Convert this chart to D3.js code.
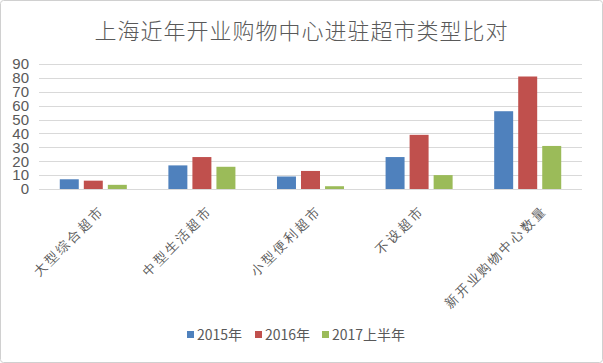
<!DOCTYPE html>
<html lang="zh">
<head>
<meta charset="UTF-8">
<title>上海近年开业购物中心进驻超市类型比对</title>
<script src="https://d3js.org/d3.v7.min.js"></script>
<style>
  body { margin: 0; background: #fff; }
  svg { display: block; font-family: "Noto Sans CJK SC", "Noto Sans", sans-serif; }
</style>
</head>
<body>
<div id="chart"></div>
<script>
// 数据
const categories = ["大型综合超市", "中型生活超市", "小型便利超市", "不设超市", "新开业购物中心数量"];
const seriesNames = ["2015年", "2016年", "2017上半年"];
const v2015 = [7, 17, 9, 23, 56];
const v2016 = [6, 23, 13, 39, 81];
const v2017h1 = [3, 16, 2, 10, 31];
const yTicks = [0, 10, 20, 30, 40, 50, 60, 70, 80, 90];
const colors = ["#4f81bd", "#c0504d", "#9bbb59"];

const width = 603, height = 363;
const margin = { top: 64, right: 21, bottom: 174, left: 39 };
const values = [v2015, v2016, v2017h1];

const svg = d3.select("#chart").append("svg")
  .attr("width", width)
  .attr("height", height);

// 外框
svg.append("rect")
  .attr("x", 0.5).attr("y", 0.5)
  .attr("width", width - 1).attr("height", height - 1)
  .attr("rx", 3)
  .attr("fill", "#fff").attr("stroke", "#d0d0d0");

const x = d3.scaleBand()
  .domain(categories)
  .range([margin.left, width - margin.right]);

const x1 = d3.scaleBand()
  .domain(seriesNames)
  .range([0, x.bandwidth()])
  .paddingInner(0.21)
  .paddingOuter(0.865);

const y = d3.scaleLinear()
  .domain([0, 90])
  .range([height - margin.bottom, margin.top]);

// 网格线
svg.append("g")
  .selectAll("line")
  .data(yTicks)
  .join("line")
  .attr("x1", margin.left)
  .attr("x2", width - margin.right)
  .attr("y1", d => Math.round(y(d)) + 0.5)
  .attr("y2", d => Math.round(y(d)) + 0.5)
  .attr("stroke", "#d9d9d9");

// y 轴
const yAxis = svg.append("g")
  .attr("transform", `translate(${margin.left - 10},0)`)
  .call(d3.axisLeft(y).tickValues(yTicks).tickSize(0).tickPadding(0));
yAxis.select(".domain").remove();
yAxis.selectAll("text")
  .attr("fill", "#595959")
  .style("font-size", "15px");

// 柱子
const groups = svg.append("g")
  .selectAll("g")
  .data(categories)
  .join("g")
  .attr("transform", d => `translate(${x(d)},0)`);

groups.selectAll("rect")
  .data((d, i) => seriesNames.map((s, k) => ({ s, v: values[k][i], k })))
  .join("rect")
  .attr("x", d => x1(d.s))
  .attr("y", d => y(d.v))
  .attr("width", x1.bandwidth())
  .attr("height", d => y(0) - y(d.v))
  .attr("fill", d => colors[d.k]);

// x 轴标签（旋转 -45°，长标签略向右移）
const xAxis = svg.append("g")
  .attr("transform", `translate(0,${height - margin.bottom})`)
  .call(d3.axisBottom(x).tickSize(0).tickPadding(0));
xAxis.select(".domain").remove();
xAxis.selectAll("text")
  .attr("fill", "#595959")
  .style("font-size", "13px")
  .style("letter-spacing", "2.4px")
  .attr("text-anchor", "end")
  .attr("dy", "0.35em")
  .attr("transform", function () {
    const len = this.getComputedTextLength();
    const dx = Math.max(0, 0.19 * len - 9.5);
    return `translate(${dx},19) rotate(-45)`;
  });

// 标题
svg.append("text")
  .attr("x", width / 2)
  .attr("y", 39)
  .attr("text-anchor", "middle")
  .attr("fill", "#595959")
  .style("font-size", "22px")
  .style("font-weight", 300)
  .style("letter-spacing", "1px")
  .text("上海近年开业购物中心进驻超市类型比对");

// 图例
const legendX = [187, 255, 322];
const legend = svg.append("g")
  .selectAll("g")
  .data(seriesNames)
  .join("g")
  .attr("transform", (d, i) => `translate(${legendX[i]},335)`);
legend.append("rect")
  .attr("x", 0).attr("y", -4)
  .attr("width", 7).attr("height", 7)
  .attr("fill", (d, i) => colors[i]);
legend.append("text")
  .attr("x", 10)
  .attr("y", 0)
  .attr("dy", "0.35em")
  .attr("fill", "#595959")
  .style("font-size", "14px")
  .text(d => d);
</script>
</body>
</html>
